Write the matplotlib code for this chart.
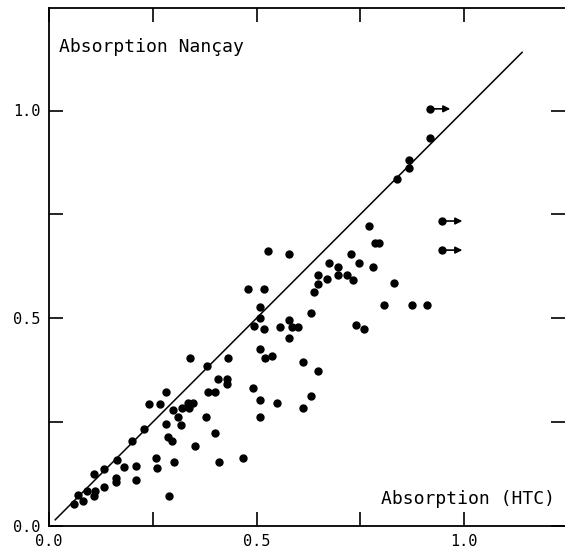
import numpy as np
import matplotlib
matplotlib.use("Agg")
import matplotlib.pyplot as plt

# Absorption HTC (x) vs absorption Nancay (y)
x_htc = [0.061, 0.071, 0.082, 0.092, 0.111, 0.109, 0.108, 0.133, 0.133, 0.161,
         0.162, 0.164, 0.181, 0.210, 0.210, 0.200, 0.230, 0.241, 0.267, 0.259,
         0.261, 0.289, 0.301, 0.282, 0.318, 0.286, 0.297, 0.298, 0.310, 0.320,
         0.336, 0.346, 0.338, 0.281, 0.340, 0.353, 0.380, 0.378, 0.384, 0.400,
         0.400, 0.408, 0.430, 0.428, 0.431, 0.410, 0.467, 0.491, 0.508, 0.509,
         0.549, 0.508, 0.520, 0.538, 0.480, 0.519, 0.508, 0.508, 0.495, 0.518,
         0.528, 0.579, 0.557, 0.578, 0.585, 0.599, 0.579, 0.613, 0.649, 0.631,
         0.613, 0.631, 0.639, 0.647, 0.649, 0.669, 0.697, 0.719, 0.732, 0.675,
         0.697, 0.728, 0.748, 0.780, 0.786, 0.796, 0.772, 0.740, 0.759, 0.807,
         0.874, 0.912, 0.831, 0.838, 0.868, 0.868, 0.918]
y_nancay = [0.052, 0.075, 0.061, 0.084, 0.085, 0.071, 0.124, 0.137, 0.093, 0.115,
            0.105, 0.159, 0.143, 0.144, 0.111, 0.204, 0.233, 0.294, 0.294, 0.164,
            0.140, 0.073, 0.154, 0.245, 0.243, 0.215, 0.204, 0.279, 0.263, 0.284,
            0.296, 0.296, 0.284, 0.323, 0.404, 0.192, 0.385, 0.263, 0.323, 0.323,
            0.223, 0.354, 0.354, 0.342, 0.404, 0.154, 0.164, 0.333, 0.303, 0.263,
            0.295, 0.425, 0.404, 0.410, 0.570, 0.570, 0.526, 0.501, 0.482, 0.473,
            0.663, 0.655, 0.480, 0.496, 0.480, 0.480, 0.453, 0.395, 0.374, 0.313,
            0.285, 0.513, 0.564, 0.582, 0.604, 0.594, 0.604, 0.604, 0.592, 0.634,
            0.624, 0.654, 0.632, 0.623, 0.682, 0.682, 0.723, 0.484, 0.474, 0.532,
            0.532, 0.532, 0.584, 0.835, 0.881, 0.862, 0.935]

# lower limits in HTC (arrows)
x_lim = [0.917, 0.946, 0.946]
y_lim = [1.004, 0.734, 0.664]

fs = ["DejaVu Sans Mono"]

fig = plt.figure(figsize=(5.65, 5.48), dpi=100)
ax = fig.add_axes([49 / 565, 22 / 548, 516 / 565, 518 / 548])
ax.set_xlim(0, 516 / 415)
ax.set_ylim(0, 518 / 415.5)

# droite y = x
ax.plot([0.015, 1.14], [0.015, 1.14], color="black", lw=1.1)

ax.plot(x_htc, y_nancay, "o", color="black", ms=5)
ax.plot(x_lim, y_lim, "o", color="black", ms=5)
for xa, ya in zip(x_lim, y_lim):
    ax.annotate("", xy=(xa + 0.05, ya), xytext=(xa, ya),
                arrowprops=dict(arrowstyle="-|>", color="black", lw=1.2,
                                mutation_scale=10, shrinkA=0, shrinkB=0))

ax.text(0.024, 1.153, "Absorption Nançay", family=fs, fontsize=13,
        ha="left", va="center")
ax.text(1.219, 0.065, "Absorption (HTC)", family=fs, fontsize=13,
        ha="right", va="center")

ax.set_xticks([0.0, 0.5, 1.0])
ax.set_yticks([0.0, 0.5, 1.0])
ax.set_xticks([0.25, 0.75], minor=True)
ax.set_yticks([0.25, 0.75], minor=True)
ax.set_xticklabels(["0.0", "0.5", "1.0"], family=fs, fontsize=11)
ax.set_yticklabels(["0.0", "0.5", "1.0"], family=fs, fontsize=11)
ax.tick_params(which="both", direction="in", length=10, width=1.2,
               top=True, right=True, labeltop=False, labelright=False)
ax.tick_params(axis="x", pad=6)
ax.tick_params(axis="y", pad=6)

ax.spines["right"].set_visible(False)
for s in ["left", "bottom", "top"]:
    ax.spines[s].set_linewidth(1.3)

fig.savefig("out.png", dpi=100)
